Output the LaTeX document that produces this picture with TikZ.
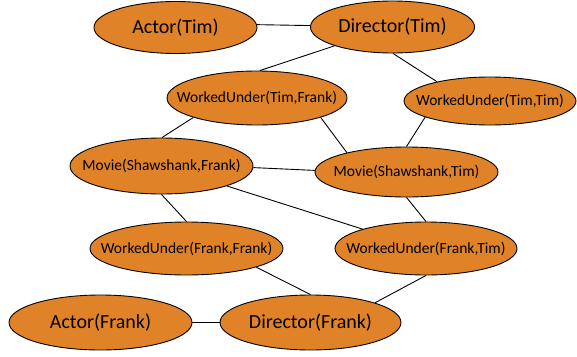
\documentclass[tikz,border=0pt]{standalone}
\usepackage{fontspec}
\setmainfont{Carlito}
\usetikzlibrary{shapes.geometric}
\definecolor{nodeorange}{RGB}{224,130,40}
\tikzset{
  el/.style n args={2}{ellipse, draw=black, line width=0.9pt, fill=nodeorange, inner sep=0pt,
    minimum width=#1pt, minimum height=#2pt},
  bigtxt/.style={font=\fontsize{20}{22}\selectfont},
  smalltxt/.style={font=\fontsize{15.5}{17}\selectfont},
  edge/.style={draw=black, line width=0.9pt}
}
\begin{document}
\begin{tikzpicture}[x=1pt,y=-1pt]
\useasboundingbox (0,0) rectangle (577,356);
\node[el={163}{52},bigtxt] (at) at (175.5,27.5) {\makebox[0pt]{Actor(Tim)}};
\node[el={164}{52},bigtxt] (dt) at (392.5,27) {\makebox[0pt]{Director(Tim)}};
\node[el={180}{54},smalltxt] (wtf) at (257,98) {\makebox[0pt]{WorkedUnder(Tim,Frank)}};
\node[el={172}{48},smalltxt] (wtt) at (490,101) {\makebox[0pt]{WorkedUnder(Tim,Tim)}};
\node[el={183}{56},smalltxt] (msf) at (161.5,166) {\makebox[0pt]{Movie(Shawshank,Frank)}};
\node[el={183}{50},smalltxt] (mst) at (406.5,172) {\makebox[0pt]{Movie(Shawshank,Tim)}};
\node[el={193}{53},smalltxt] (wff) at (186.5,248.5) {\makebox[0pt]{WorkedUnder(Frank,Frank)}};
\node[el={182}{53},smalltxt] (wft) at (426,248.5) {\makebox[0pt]{WorkedUnder(Frank,Tim)}};
\node[el={183}{55},bigtxt] (af) at (100.5,322.5) {\makebox[0pt]{Actor(Frank)}};
\node[el={181}{55},bigtxt] (df) at (310.5,322.5) {\makebox[0pt]{Director(Frank)}};
\draw[edge] (at.2) -- (dt.179);
\draw[edge] (dt.198) -- (wtf.84);
\draw[edge] (dt.271) -- (wtt.160);
\draw[edge] (wtf.197) -- (msf.89);
\draw[edge] (wtf.343) -- (mst.162);
\draw[edge] (wtt.194) -- (mst.90);
\draw[edge] (msf.359) -- (mst.179);
\draw[edge] (msf.270) -- (wff.90);
\draw[edge] (msf.343) -- (wft.163);
\draw[edge] (mst.270) -- (wft.90);
\draw[edge] (wff.345) -- (df.90);
\draw[edge] (wft.270) -- (df.17);
\draw[edge] (af.east) -- (df.west);
\end{tikzpicture}
\end{document}
